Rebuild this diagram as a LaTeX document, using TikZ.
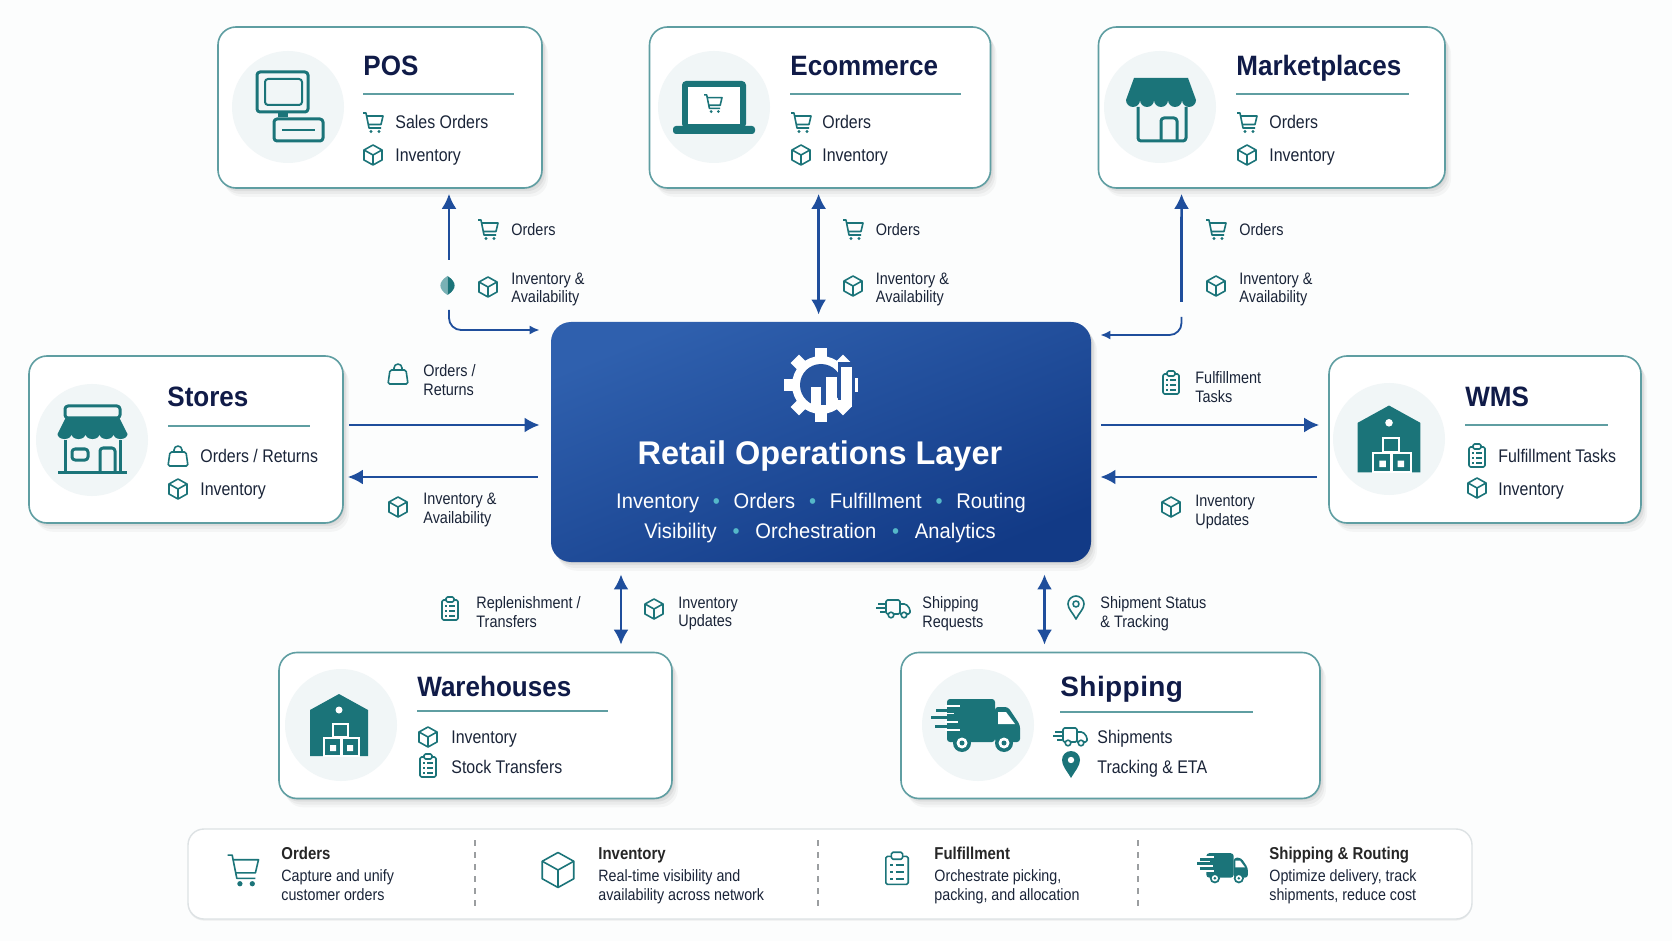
\documentclass[tikz,border=0pt]{standalone}
\usepackage{fontspec}
\setmainfont[FakeStretch=.87]{Liberation Sans}
\newfontfamily\headfont[FakeStretch=.93]{Liberation Sans}
\newfontfamily\widefont[LetterSpace=1.5]{Liberation Sans}
\newfontfamily\corefont[FakeStretch=.99]{Liberation Sans}
\newfontfamily\linefont[FakeStretch=.95]{Liberation Sans}
\usetikzlibrary{arrows.meta,shadows}
\definecolor{cardline}{HTML}{5F9EA2}
\definecolor{iconteal}{HTML}{1B7479}
\definecolor{edgeteal}{HTML}{3F9095}
\definecolor{circlebg}{HTML}{F1F6F7}
\definecolor{titlenavy}{HTML}{101B48}
\definecolor{textnavy}{HTML}{1A2438}
\definecolor{flowblue}{HTML}{1F4E9C}
\definecolor{coretop}{HTML}{2F60AE}
\definecolor{corebot}{HTML}{123A86}
\definecolor{corefill}{HTML}{27549F}
\definecolor{dotcyan}{HTML}{55B8C9}
\definecolor{striprule}{HTML}{DDE2E4}
\begin{document}
\begin{tikzpicture}[
            x=.5pt, y=-.5pt,
            >={Latex[length=7.5pt,width=7.5pt]},
            softshadow/.style={
              general shadow={shadow xshift=.6pt,shadow yshift=-.6pt,fill=black,opacity=.05},
              general shadow={shadow xshift=1.4pt,shadow yshift=-1.6pt,fill=black,opacity=.05},
              general shadow={shadow xshift=2.2pt,shadow yshift=-3pt,fill=black,opacity=.04},
              general shadow={shadow xshift=3pt,shadow yshift=-4.4pt,fill=black,opacity=.03}},
            cardbox/.style={draw=cardline,fill=white,line width=.8pt,rounded corners=9pt,softshadow},
            corebox/.style={rounded corners=10pt,top color=coretop,bottom color=corebot,shading angle=22,
              softshadow,minimum width=270pt,minimum height=120pt},
            stripbox/.style={draw=striprule,fill=white,line width=.7pt,rounded corners=8pt,
              general shadow={shadow xshift=0pt,shadow yshift=-.8pt,fill=black,opacity=.06},
              minimum width=642pt,minimum height=45pt},
            iconspot/.style={circle,fill=circlebg,minimum size=56pt,inner sep=0pt},
            cardtitle/.style={anchor=west,inner sep=0pt,text height=10pt,text depth=0pt,text=titlenavy,
              font=\headfont\bfseries\fontsize{14pt}{16pt}\selectfont},
            carditem/.style={anchor=west,inner sep=0pt,text height=6.5pt,text depth=0pt,text=textnavy,
              font=\fontsize{9.15pt}{11pt}\selectfont},
            edgetext/.style={anchor=north west,inner sep=0pt,align=left,text=textnavy,font=\fontsize{8.3pt}{9.3pt}\selectfont},
            striphead/.style={anchor=west,inner sep=0pt,text height=6.2pt,text depth=0pt,text=black!85,
              font=\bfseries\fontsize{8.6pt}{10pt}\selectfont},
            stripbody/.style={anchor=north west,inner sep=0pt,align=left,text=textnavy,font=\fontsize{8.2pt}{9.4pt}\selectfont},
            corehead/.style={inner sep=0pt,text height=11.7pt,text depth=0pt,text=white,
              font=\corefont\bfseries\fontsize{16.4pt}{18pt}\selectfont},
            coreline/.style={inner sep=0pt,text height=7.6pt,text depth=0pt,text=white,
              font=\linefont\fontsize{10.6pt}{12pt}\selectfont},
            flowline/.style={draw=flowblue,line width=1.3pt},
            thinflow/.style={draw=flowblue,line width=.9pt,>={Latex[length=5pt,width=4.5pt]},rounded corners=6pt},
            rulerline/.style={draw=cardline,line width=.6pt},
            smallicon/.style={draw,line width=.8pt,line join=round},
            bigicon/.style={draw=iconteal,line width=1.5pt,rounded corners=1.5pt,line join=round},
            every pic/.style={color=iconteal},
            cartpic/.pic={
              \draw[smallicon] (-10,-9) -- (-7,-9) -- (-4,6) -- (8,6);
              \draw[smallicon] (-6,-6) -- (10,-6) -- (8,2.5) -- (-4.5,2.5);
              \fill (-2,9.5) circle (1.7) (6,9.5) circle (1.7);},
            cubepic/.pic={
              \draw[smallicon] (0,-10) -- (9,-5) -- (9,5) -- (0,10) -- (-9,5) -- (-9,-5) -- cycle;
              \draw[smallicon] (-9,-5) -- (0,0) -- (9,-5) (0,0) -- (0,10);},
            clippic/.pic={
              \draw[smallicon,rounded corners=.8pt] (-8,-9) rectangle (8,11);
              \draw[smallicon,fill=white,rounded corners=.8pt] (-4,-12) rectangle (4,-7);
              \foreach \ly in {-3,2,7} {
                \draw[smallicon] (-5,\ly) -- (-3,\ly) (-1,\ly) -- (5,\ly);
              }},
            bagpic/.pic={
              \draw[smallicon,rounded corners=.8pt] (-8,-4) -- (8,-4) -- (10,10) -- (-10,10) -- cycle;
              \draw[smallicon] (-4,-4) -- (-4,-6) arc[start angle=180,end angle=360,radius=4] -- (4,-4);},
            vanpic/.pic={
              \draw[smallicon,rounded corners=.8pt] (-8,5) -- (-8,-9) -- (6,-9) -- (6,5) -- cycle;
              \draw[smallicon,rounded corners=.8pt] (6,-5) -- (12,-5) -- (16,0) -- (16,5) -- (6,5);
              \draw[smallicon,fill=white] (-3,6) circle (2.8) (10,6) circle (2.8);
              \draw[smallicon] (-16,-5) -- (-9,-5) (-18,-1) -- (-9,-1) (-14,3) -- (-9,3);},
            pinpic/.pic={
              \draw[smallicon] (0,11) .. controls (-3,5) and (-8,1) .. (-8,-4)
                arc[start angle=180,end angle=360,radius=8] .. controls (8,1) and (3,5) .. (0,11) -- cycle;
              \draw[smallicon] (0,-4) circle (3);},
            awningpic/.pic={
              \fill (-27,-22) -- (27,-22) -- (35,0)
                \foreach \k in {1,...,5} {arc[start angle=0,end angle=180,radius=7]} -- cycle;},
            depotpic/.pic={
              \fill (0,-31) -- (29,-15) -- (29,31) -- (-29,31) -- (-29,-15) -- cycle;
              \fill[white] (0,-15) circle (3.5);
              \draw[white,line width=1pt] (-6,-1) rectangle (9,12) (-15,13) rectangle (2,31) (3,13) rectangle (20,31);
              \fill[white] (-9,20) rectangle (-3,26) (8,20) rectangle (14,26);},
            truckpic/.pic={
              \fill[rounded corners=1.5pt] (-31,-26) rectangle (17,17);
              \fill[rounded corners=1.5pt] (17,-18) -- (30,-18) -- (42,0) -- (42,17) -- (17,17) -- cycle;
              \fill[white] (20,-13) -- (28,-13) -- (37,-1) -- (20,-1) -- cycle;
              \draw[white,line width=.9pt] (-33,-19) -- (-18,-19) (-33,-11.5) -- (-24,-11.5) (-33,-3) -- (-20,-3) (-33,5) -- (-18,5);
              \draw[line width=1.5pt] (-42,-15) -- (-24,-15) (-47,-7.5) -- (-28,-7.5) (-43,1) -- (-24,1);
              \fill (-16,18) circle (9) (26,18) circle (9);
              \fill[white] (-16,18) circle (5.5) (26,18) circle (5.5);
              \fill (-16,18) circle (2.5) (26,18) circle (2.5);},
            ]
            \useasboundingbox (0,0) rectangle (1672,941);
            \fill[white!98!cardline] (0,0) rectangle (1672,941);

            \node[cardbox,minimum width=162pt,minimum height=80.5pt] (pos) at (380,107.5) {};
            \node[cardbox,minimum width=170.5pt,minimum height=80.5pt] (ecom) at (820,107.5) {};
            \node[cardbox,minimum width=173.25pt,minimum height=80.5pt] (market) at (1271.75,107.5) {};
            \node[cardbox,minimum width=157pt,minimum height=83.5pt] (stores) at (186,439.5) {};
            \node[cardbox,minimum width=156pt,minimum height=83.5pt] (wms) at (1485,439.5) {};
            \node[cardbox,minimum width=196.5pt,minimum height=73pt] (ware) at (475.5,725.5) {};
            \node[cardbox,minimum width=209.5pt,minimum height=73pt] (ship) at (1110.5,725.5) {};
            \node[corebox] (core) at (821,442) {};
            \node[stripbox] (strip) at (830,874) {};

            \foreach \name/\x/\y in {posspot/288/107,ecomspot/714/107,marketspot/1160/107,storesspot/92/440,wmsspot/1389/439,warespot/341/725,shipspot/978/725} {
              \node[iconspot] (\name) at (\x,\y) {};
            }

            \node[cardtitle] (postitle) at (363,66) {POS};
            \node[cardtitle] (ecomtitle) at (790,66) {Ecommerce};
            \node[cardtitle] (markettitle) at (1236,66) {Marketplaces};
            \node[cardtitle] (storestitle) at (167,397) {Stores};
            \node[cardtitle] (wmstitle) at (1465,397) {WMS};
            \node[cardtitle] (waretitle) at (417,686) {Warehouses};
            \node[cardtitle,font=\widefont\bfseries\fontsize{14pt}{16pt}\selectfont] (shiptitle) at (1060,686) {Shipping};

            \foreach \xa/\xb/\ya in {363/514/94,790/961/94,1236/1409/94,168/310/426,1465/1608/425,417/608/711,1060/1253/712} {
              \draw[rulerline] (\xa,\ya) -- (\xb,\ya);
            }

            \foreach \name/\x/\y/\label in {
              possales/395/122/Sales Orders,posinv/395/155/Inventory,
              ecomord/822/122/Orders,ecominv/822/155/Inventory,
              marketord/1269/122/Orders,marketinv/1269/155/Inventory,
              storesord/200/456/{Orders / Returns},storesinv/200/489/Inventory,
              wmsful/1498/456/Fulfillment Tasks,wmsinv/1498/489/Inventory,
              wareinv/451/737/Inventory,warestock/451/767/Stock Transfers,
              shipmain/1097/737/Shipments,shiptrack/1097/767/Tracking \& ETA} {
              \node[carditem] (\name) at (\x,\y) {\label};
            }

            \pic at (373,122) {cartpic};
            \pic at (373,155) {cubepic};
            \pic at (801,122) {cartpic};
            \pic at (801,155) {cubepic};
            \pic at (1247,122) {cartpic};
            \pic at (1247,155) {cubepic};
            \pic at (178,456) {bagpic};
            \pic at (178,489) {cubepic};
            \pic at (1477,456) {clippic};
            \pic at (1477,488) {cubepic};
            \pic at (428,737) {cubepic};
            \pic at (428,766) {clippic};
            \pic at (1071,737) {vanpic};
            \fill[iconteal] (1071,778) .. controls (1067,771) and (1062,766) .. (1062,760)
              arc[start angle=180,end angle=360,radius=9] .. controls (1080,766) and (1075,771) .. (1071,778) -- cycle;
            \fill[white] (1071,760) circle (3.2);

            \foreach \name/\x/\y/\label in {
              posedgea/511/223/Orders,posedgeb/511/272.5/{Inventory \&\\Availability},
              ecomedgea/875.5/223/Orders,ecomedgeb/875.5/272.5/{Inventory \&\\Availability},
              marketedgea/1239/223/Orders,marketedgeb/1239/272.5/{Inventory \&\\Availability},
              storesedgea/423/364/{Orders /\\Returns},storesedgeb/423/493/{Inventory \&\\Availability},
              wmsedgea/1195/371.5/{Fulfillment\\Tasks},wmsedgeb/1195/495/{Inventory\\Updates},
              wareedgea/476/596.5/{Replenishment /\\Transfers},wareedgeb/678/596.5/{Inventory\\Updates},
              shipedgea/922/596.5/{Shipping\\Requests},shipedgeb/1100/596.5/{Shipment Status\\\& Tracking}} {
              \node[edgetext] (\name) at (\x,\y) {\label};
            }

            \pic[color=edgeteal] at (488,229) {cartpic};
            \pic[color=edgeteal] at (488,287) {cubepic};
            \pic[color=edgeteal] at (853,229) {cartpic};
            \pic[color=edgeteal] at (853,286) {cubepic};
            \pic[color=edgeteal] at (1216,229) {cartpic};
            \pic[color=edgeteal] at (1216,286) {cubepic};
            \pic[color=edgeteal] at (398,374) {bagpic};
            \pic[color=edgeteal] at (398,507) {cubepic};
            \pic[color=edgeteal] at (1171,383) {clippic};
            \pic[color=edgeteal] at (1171,507) {cubepic};
            \pic[color=edgeteal] at (450,609) {clippic};
            \pic[color=edgeteal] at (654,609) {cubepic};
            \pic[color=edgeteal] at (894,609) {vanpic};
            \pic[color=edgeteal] at (1076,608) {pinpic};

            \fill[edgeteal!70!white] (447.5,276) .. controls (438,282) and (438,289) .. (447.5,295) -- cycle;
            \fill[iconteal] (447.5,276) .. controls (457,282) and (457,289) .. (447.5,295) -- cycle;

            \coordinate (posgap) at (449,260);
            \coordinate (poslow) at (449,310);
            \coordinate (marketgap) at (1181.5,302);
            \coordinate (marketlow) at (1181.5,317);
            \draw[flowline,->] (posgap) -- ([shift={(34.5pt,-2.5pt)}]pos.south);
            \draw[thinflow,->] (poslow) |- ([shift={(-5.5pt,56pt)}]core.west);
            \draw[flowline,<->] ([shift={(-.7pt,-2.5pt)}]ecom.south) -- ([shift={(-1.2pt,3.5pt)}]core.north);
            \draw[flowline,->] (marketgap) -- ([shift={(-45.1pt,-2.5pt)}]market.south);
            \draw[thinflow,->] (marketlow) |- ([shift={(4.5pt,53.5pt)}]core.east);
            \draw[flowline,->] ([shift={(2.5pt,7.25pt)}]stores.east) -- ([shift={(-5.5pt,8.5pt)}]core.west);
            \draw[flowline,->] ([shift={(-6.5pt,-17.5pt)}]core.west) -- ([shift={(2pt,-18.75pt)}]stores.east);
            \draw[flowline,->] ([shift={(5pt,8.5pt)}]core.east) -- ([shift={(-4.5pt,7.25pt)}]wms.west);
            \draw[flowline,->] ([shift={(-5.5pt,-18.75pt)}]wms.west) -- ([shift={(4.5pt,-17.5pt)}]core.east);
            \draw[flowline,<->] ([shift={(-100pt,-6pt)}]core.south) -- ([shift={(72.75pt,3.5pt)}]ware.north);
            \draw[flowline,<->] ([shift={(111.75pt,-6pt)}]core.south) -- ([shift={(-33pt,3.5pt)}]ship.north);

            \draw[bigicon] (257,72) rectangle (308,112);
            \draw[bigicon,line width=1pt] (265,79) rectangle (302,105);
            \fill[iconteal] (278,112) rectangle (288,117);
            \draw[bigicon] (274,119) rectangle (323,141);
            \draw[bigicon,line width=1pt] (282,130) -- (315,130);

            \fill[iconteal,rounded corners=2pt] (682,81) rectangle (746,128);
            \fill[white] (688,87) rectangle (740,124);
            \fill[iconteal,rounded corners=1.5pt] (673,126) rectangle (755,134);
            \pic[scale=.9] at (713,103) {cartpic};

            \pic at (1161,100) {awningpic};
            \draw[bigicon] (1138,107) -- (1138,141) -- (1186,141) -- (1186,107);
            \draw[bigicon] (1161,141) -- (1161,118) -- (1177,118) -- (1177,141);

            \draw[bigicon] (65,406) rectangle (120,418);
            \pic[yscale=.72] at (92.5,434) {awningpic};
            \draw[bigicon] (65,440) -- (65,472) (120,440) -- (120,472) (58,472) -- (127,472);
            \draw[bigicon] (72,449) rectangle (88,460);
            \draw[bigicon] (100,472) -- (100,448) -- (115,448) -- (115,472);

            \pic[scale=1.08] at (1389,439) {depotpic};
            \pic at (339,725) {depotpic};
            \pic at (978,725) {truckpic};

            \fill[white] (821,385) circle (29);
            \foreach \a in {0,45,...,315} {
              \fill[white,rotate around={\a:(821,385)}] (815,348) rectangle (827,362);
            }
            \fill[corefill] (821,385) circle (21);
            \fill[corefill] (838,362) rectangle (855,400);
            \fill[white] (811,387) rectangle (821,405);
            \fill[white] (826,377) rectangle (837,405);
            \fill[white] (841,367) rectangle (852,405);
            \fill[white] (855,378) rectangle (858,392);
            \fill[white] (803,405) rectangle (852,407);

            \node[corehead] (corename) at (820,453) {Retail Operations Layer};
            \node[coreline] (corelinea) at (821,501) {Inventory\hspace{6.9pt}\textcolor{dotcyan}{•}\hspace{6.9pt}Orders\hspace{6.9pt}\textcolor{dotcyan}{•}\hspace{6.9pt}Fulfillment\hspace{6.9pt}\textcolor{dotcyan}{•}\hspace{6.9pt}Routing};
            \node[coreline] (corelineb) at (820,531) {Visibility\hspace{7.9pt}\textcolor{dotcyan}{•}\hspace{7.9pt}Orchestration\hspace{7.9pt}\textcolor{dotcyan}{•}\hspace{7.9pt}Analytics};

            \foreach \x in {475,818,1138} {
              \draw[striprule!70!black,dashed,line width=.6pt] (\x,840) -- (\x,910);
            }
            \foreach \name/\x/\head/\body in {
              striporders/281/Orders/{Capture and unify\\customer orders},
              stripinv/598/Inventory/{Real-time visibility and\\availability across network},
              stripful/934/Fulfillment/{Orchestrate picking,\\packing, and allocation},
              stripship/1269/Shipping \& Routing/{Optimize delivery, track\\shipments, reduce cost}} {
              \node[striphead] (\name head) at (\x,853) {\head};
              \node[stripbody] (\name body) at (\x,869.5) {\body};
            }
            \pic[scale=1.55,color=edgeteal] at (243,869) {cartpic};
            \pic[scale=1.75,color=edgeteal] at (558,870) {cubepic};
            \pic[scale=1.4,color=edgeteal] at (897,869) {clippic};
            \pic[scale=.57,color=edgeteal] at (1224,868) {truckpic};
            \end{tikzpicture}
\end{document}
